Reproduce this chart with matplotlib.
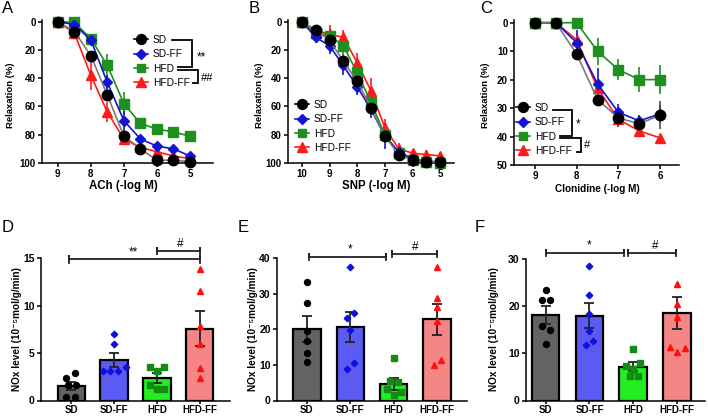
import matplotlib
matplotlib.use('Agg')
import matplotlib.pyplot as plt
from matplotlib.lines import Line2D
import numpy as np

plt.rcParams['font.family'] = ['Liberation Sans', 'DejaVu Sans']
plt.rcParams['font.weight'] = 'bold'
plt.rcParams['axes.linewidth'] = 1.1
for a in ('xtick', 'ytick'):
    plt.rcParams[a + '.major.width'] = 1.1
    plt.rcParams[a + '.major.size'] = 3
    plt.rcParams[a + '.direction'] = 'out'
    plt.rcParams[a + '.major.pad'] = 1.5

W, H = 708, 416

groups = ['SD', 'SD-FF', 'HFD', 'HFD-FF']

# ---------------- Panel A: ACh ----------------
ach_conc = [9, 8.5, 8, 7.5, 7, 6.5, 6, 5.5, 5]
ach_sd = [0, 7, 24, 52, 81, 90, 98, 98, 99]
ach_sdff = [0, 2, 13, 43, 70, 83, 88, 90, 95]
ach_hfd = [0, 0.5, 12, 31, 58, 72, 76, 78, 81]
ach_hfdff = [0, 8, 38, 64, 83, 89, 92, 95, 97]
ach_sd_err = [0, 1, 2, 3, 2, 2, 1, 1, 1]
ach_sdff_err = [0, 2, 3, 5, 7, 3, 2, 2, 2]
ach_hfd_err = [0, 2, 3, 8, 8, 3, 3, 3, 3]
ach_hfdff_err = [0, 3, 10, 7, 4, 3, 3, 2, 2]

# ---------------- Panel B: SNP ----------------
snp_conc = [10, 9.5, 9, 8.5, 8, 7.5, 7, 6.5, 6, 5.5, 5]
snp_sd = [0, 6, 13, 28, 42, 61, 81, 94, 98, 99, 99]
snp_sdff = [0, 11, 17, 31, 46, 62, 81, 92, 97, 99, 99]
snp_hfd = [0, 8, 10, 17, 36, 57, 80, 93, 98, 99, 100]
snp_hfdff = [0, 6, 9, 11, 29, 49, 75, 90, 93, 94, 95]
snp_sd_err = [0, 2, 3, 5, 5, 4, 5, 2, 2, 1, 1]
snp_sdff_err = [0, 4, 6, 7, 6, 6, 9, 3, 3, 1, 1]
snp_hfd_err = [0, 3, 5, 6, 6, 6, 5, 2, 2, 1, 1]
snp_hfdff_err = [0, 3, 7, 5, 7, 9, 6, 4, 3, 3, 3]

# ---------------- Panel C: Clonidine ----------------
clo_conc = [9, 8.5, 8, 7.5, 7, 6.5, 6]
clo_sd = [0, 0, 11, 27, 33.5, 35.5, 32.5]
clo_sdff = [0, 0, 7, 21.5, 31.5, 34.5, 32]
clo_hfd = [0, 0, 0, 10, 16.5, 20, 20]
clo_hfdff = [0, 0, 6, 23, 34, 38, 40.5]
clo_sd_err = [0, 0, 2, 2, 3, 3, 5]
clo_sdff_err = [0, 0, 4.5, 5.5, 3, 2, 3]
clo_hfd_err = [0, 0, 0, 4.8, 3.8, 4.5, 5]
clo_hfdff_err = [0, 0, 2, 2, 2, 2, 1]

# ---------------- Panels D-F: NOx level ----------------
d_means = [1.5, 4.3, 2.35, 7.55]
d_sem = [0.4, 0.75, 0.5, 1.85]
d_points = [[2.9, 2.4, 1.6, 1.6, 0.4, 0.4],
            [7.0, 6.0, 3.13, 3.13, 3.13, 3.5],
            [3.5, 3.13, 3.58, 1.65, 1.23, 1.23],
            [13.9, 11.6, 7.9, 6.0, 3.4, 2.4]]

e_means = [20.1, 20.7, 4.7, 22.8]
e_sem = [3.6, 4.3, 1.7, 4.4]
e_points = [[33.3, 27.3, 19.6, 16.7, 13.3, 10.8],
            [37.6, 24.7, 23.1, 19.8, 10.5, 9.0],
            [12.0, 5.6, 5.1, 3.3, 2.3, 1.5],
            [37.6, 28.8, 26.2, 22.5, 11.4, 10.1]]

f_means = [18.1, 18.0, 7.2, 18.5]
f_sem = [1.9, 2.7, 0.9, 3.4]
f_points = [[23.5, 21.4, 21.4, 15.9, 15.0, 12.0],
            [28.6, 22.3, 18.35, 14.7, 12.7, 11.7],
            [10.9, 7.9, 7.4, 6.7, 5.3, 5.1],
            [24.6, 20.5, 17.7, 11.3, 11.1, 10.2]]

# horizontal jitter of the dots (layout only)
d_jit = [[0.1, -0.12, -0.08, 0.12, -0.12, 0.1],
         [0, 0, -0.25, -0.09, 0.09, 0.27],
         [-0.16, 0, 0.16, -0.16, 0, 0.16],
         [0, 0, 0, 0, 0, 0]]
e_jit = [[0, 0, 0, 0, 0, 0],
         [0, 0.09, -0.08, 0, 0.09, -0.08],
         [0, -0.08, 0.09, -0.15, 0.17, 0],
         [0, 0, 0, 0, 0.1, -0.06]]
f_jit = [[0, -0.09, 0.1, -0.08, 0.1, 0],
         [0, 0, 0, 0, 0.08, -0.09],
         [0, 0.16, -0.17, 0, -0.07, 0.1],
         [0, 0, 0, -0.15, 0.18, 0]]

fig = plt.figure(figsize=(W / 100, H / 100), dpi=100)


def rect(l, r, t, b):
    return [l / W, 1 - b / H, (r - l) / W, (b - t) / H]


def ftext(x, y, s, **kw):
    fig.text(x / W, 1 - y / H, s, **kw)


def fline(xs, ys, lw=1.3):
    fig.add_artist(Line2D([x / W for x in xs], [1 - y / H for y in ys],
                          transform=fig.transFigure, color='black', lw=lw,
                          solid_joinstyle='miter'))


cstyle = {
    'SD': dict(marker='o', ms=7.5, mfc='black', mec='black', color='#7a7a7a', ecolor='#4a4a4a'),
    'SD-FF': dict(marker='D', ms=5.5, mfc='#1414d2', mec='#1414d2', color='#1414d2', ecolor='#1414d2'),
    'HFD': dict(marker='s', ms=6.8, mfc='#1f8f1f', mec='#1f8f1f', color='#1f8f1f', ecolor='#1f8f1f'),
    'HFD-FF': dict(marker='^', ms=7.5, mfc='#ff1a1a', mec='#ff1a1a', color='#ff1a1a', ecolor='#ff1a1a'),
}


def curve_panel(r, xlim, ylim, xticks, yticks, conc, series, errs, tick_fs):
    ax = fig.add_axes(r)
    for g in ['HFD-FF', 'HFD', 'SD-FF', 'SD']:
        i = groups.index(g)
        st = cstyle[g]
        ax.errorbar(conc, series[i], yerr=errs[i], fmt='-', marker=st['marker'], ms=st['ms'],
                    mfc=st['mfc'], mec=st['mec'], color=st['color'], ecolor=st['ecolor'],
                    lw=1.2, elinewidth=1.2, capsize=0, clip_on=False, zorder=3)
    ax.set_xlim(*xlim)
    ax.set_ylim(*ylim)
    ax.set_xticks(xticks)
    ax.set_yticks(yticks)
    ax.tick_params(labelsize=tick_fs)
    ax.spines['top'].set_visible(False)
    ax.spines['right'].set_visible(False)
    handles = [Line2D([], [], marker=cstyle[g]['marker'], ms=cstyle[g]['ms'] * 0.95,
                      mfc=cstyle[g]['mfc'], mec=cstyle[g]['mec'],
                      color='black' if g == 'SD' else cstyle[g]['color'], lw=1.2) for g in groups]
    return ax, handles


def legend(ax, handles, x, y):
    ax.legend(handles, groups, loc='upper left', bbox_to_anchor=(x / W, 1 - y / H),
              bbox_transform=fig.transFigure, frameon=False,
              prop={'weight': 'normal', 'size': 7.3}, handlelength=1.4,
              handletextpad=0.45, labelspacing=0.42, borderpad=0, borderaxespad=0)


# A
axA, hA = curve_panel(rect(42, 213, 20, 163), (9.48, 4.3), (100, -1.2), [9, 8, 7, 6, 5],
                      [0, 20, 40, 60, 80, 100], ach_conc,
                      [ach_sd, ach_sdff, ach_hfd, ach_hfdff],
                      [ach_sd_err, ach_sdff_err, ach_hfd_err, ach_hfdff_err], 7)
legend(axA, hA, 134, 35)
fline([171.7, 191.7, 191.7, 178], [40, 40, 67.3, 67.3])
fline([178, 198.3, 198.3, 193.3], [69.6, 69.6, 83.3, 83.3])
ftext(201, 57, '**', ha='center', va='center', fontsize=8.5, fontweight='normal')
ftext(207, 78, '##', ha='center', va='center', fontsize=8, fontweight='normal')

# B
axB, hB = curve_panel(rect(288, 454, 20, 163), (10.5, 4.5), (100, -1.2), [10, 9, 8, 7, 6, 5],
                      [0, 20, 40, 60, 80, 100], snp_conc,
                      [snp_sd, snp_sdff, snp_hfd, snp_hfdff],
                      [snp_sd_err, snp_sdff_err, snp_hfd_err, snp_hfdff_err], 7)
legend(axB, hB, 295, 100)

# C
axC, hC = curve_panel(rect(514, 679, 20, 165), (9.5, 5.55), (50, -0.95), [9, 8, 7, 6],
                      [0, 10, 20, 30, 40, 50], clo_conc,
                      [clo_sd, clo_sdff, clo_hfd, clo_hfdff],
                      [clo_sd_err, clo_sdff_err, clo_hfd_err, clo_hfdff_err], 7)
legend(axC, hC, 516, 103)
fline([553.3, 571.7, 571.7, 560], [110, 110, 135.5, 135.5])
fline([560, 581, 581, 576.7], [138, 138, 151.7, 151.7])
ftext(578.5, 124, '*', ha='center', va='center', fontsize=8.5, fontweight='normal')
ftext(587.5, 145, '#', ha='center', va='center', fontsize=8, fontweight='normal')

# curve axis labels
for x, y, s, fs in [(123, 186, 'ACh (-log M)', 8.3), (376, 186, 'SNP (-log M)', 8.3),
                    (597, 189, 'Clonidine (-log M)', 7.2)]:
    ftext(x, y, s, ha='center', va='center', fontsize=fs)
for x in (11, 260, 486):
    ftext(x, 95, 'Relaxation (%)', ha='center', va='center', rotation=90, fontsize=6.8)

bar_colors = ['#636363', '#5b5bf3', '#22ee22', '#f68585']
pstyle = {'SD': ('o', 'black', 4.3), 'SD-FF': ('D', '#1010e0', 3.3),
          'HFD': ('s', '#138a13', 4.2), 'HFD-FF': ('^', '#ff1010', 4.3)}


def bar_panel(r, xlim, ylim, yticks, means, sems, points, jit, sigs):
    ax = fig.add_axes(r)
    x = np.arange(len(groups))
    ax.bar(x, means, width=0.63, color=bar_colors, edgecolor='black', linewidth=1.6, zorder=2)
    ax.errorbar(x, means, yerr=sems, fmt='none', ecolor='#222222', elinewidth=1.3,
                capsize=3.5, capthick=1.3, zorder=3)
    for i, g in enumerate(groups):
        m, c, s = pstyle[g]
        ax.plot(i + np.array(jit[i]), points[i], linestyle='none', marker=m, ms=s,
                mfc=c, mec=c, zorder=4, clip_on=False)
    ax.set_xlim(*xlim)
    ax.set_ylim(*ylim)
    ax.set_yticks(yticks)
    ax.set_xticks(x)
    ax.set_xticklabels(groups, fontsize=7)
    ax.tick_params(axis='x', pad=1, length=2.5)
    ax.tick_params(axis='y', labelsize=7.5)
    ax.spines['top'].set_visible(False)
    ax.spines['right'].set_visible(False)
    pxu = (r[3] * H) / (ylim[1] - ylim[0])
    dy = 3.3 / pxu
    for x1, x2, y, txt, tx in sigs:
        ax.plot([x1, x1, x1, x2, x2, x2], [y - dy, y + dy, y, y, y + dy, y - dy],
                color='#222222', lw=1.3, clip_on=False, zorder=5)
        ax.text(tx, y + 1.2 / pxu, txt, ha='center', va='bottom', fontsize=8.5,
                fontweight='normal')
    return ax


nox_label = 'NOx level (10\u207b\u2075mol/g/min)'

bar_panel(rect(41, 230, 258.3, 400.5), (-0.7, 3.7), (0, 15), [0, 5, 10, 15],
          d_means, d_sem, d_points, d_jit,
          [(-0.05, 3.0, 14.9, '**', 1.46), (1.99, 3.0, 15.75, '#', 2.53)])
bar_panel(rect(277, 467, 258.3, 400.5), (-0.69, 3.69), (0, 40), [0, 10, 20, 30, 40],
          e_means, e_sem, e_points, e_jit,
          [(0.04, 1.83, 40.4, '*', 1.0), (1.95, 3.0, 41.2, '#', 2.5)])
bar_panel(rect(526, 705, 259, 400.5), (-0.45, 3.64), (0, 30), [0, 10, 20, 30],
          f_means, f_sem, f_points, f_jit,
          [(0.0, 1.8, 31.3, '*', 0.98), (1.89, 2.98, 31.3, '#', 2.5)])

for x in (17, 253, 494):
    ftext(x, 329, nox_label, ha='center', va='center', rotation=90, fontsize=7.2,
          family=['Liberation Sans', 'DejaVu Sans'])

for x, y, s in [(2, 1, 'A'), (249, 1, 'B'), (480, 1, 'C'),
                (2, 220, 'D'), (238, 220, 'E'), (475, 220, 'F')]:
    ftext(x, y, s, ha='left', va='top', fontsize=12, fontweight='normal')

fig.savefig('out.png', dpi=100)
